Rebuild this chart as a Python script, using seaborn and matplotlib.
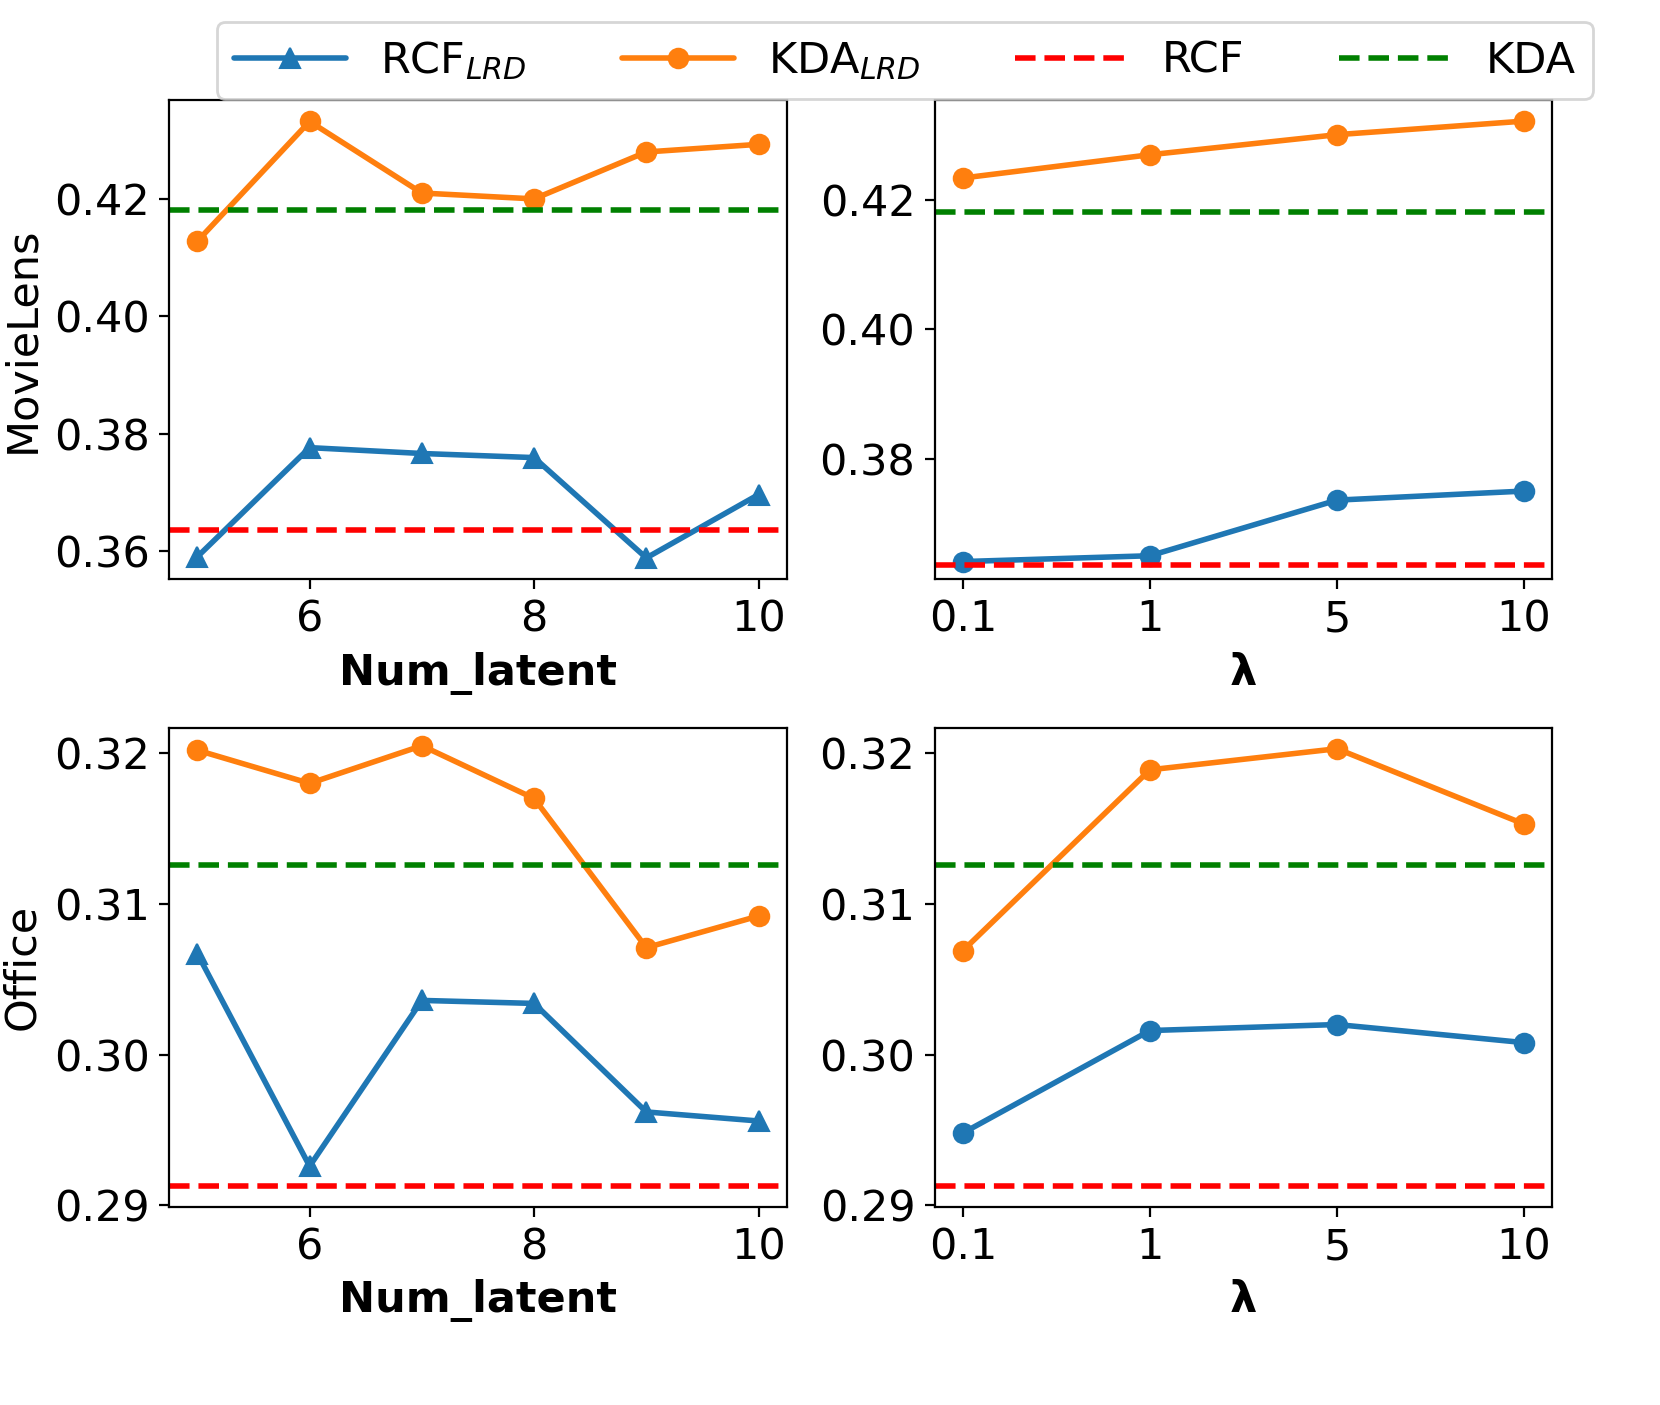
import pandas as pd
import matplotlib.pyplot as plt
import seaborn as sns

sns.set_style('ticks')
plt.rcParams['font.family'] = ['DejaVu Sans']
plt.rcParams.update({'text.color': 'black', 'axes.labelcolor': 'black',
                     'xtick.color': 'black', 'ytick.color': 'black',
                     'axes.edgecolor': 'black'})

num_latent = [5, 6, 7, 8, 9, 10]
lambdas = ['0.1', '1', '5', '10']

ml_latent_rcf = [0.3590, 0.3776, 0.3766, 0.3759, 0.3588, 0.3696]
ml_latent_kda = [0.4128, 0.4332, 0.4210, 0.4200, 0.4280, 0.4293]
ml_lambda_rcf = [0.3641, 0.3650, 0.3736, 0.3750]
ml_lambda_kda = [0.4234, 0.4270, 0.4301, 0.4322]
ml_rcf_base, ml_kda_base = 0.3635, 0.4181

of_latent_rcf = [0.3067, 0.2926, 0.3036, 0.3034, 0.2962, 0.2956]
of_latent_kda = [0.3202, 0.3180, 0.3205, 0.3170, 0.3071, 0.3092]
of_lambda_rcf = [0.2948, 0.3016, 0.3020, 0.3008]
of_lambda_kda = [0.3069, 0.3189, 0.3203, 0.3153]
of_rcf_base, of_kda_base = 0.2913, 0.3126

blue, orange = '#1f77b4', '#ff7f0e'
fs = 15.5

fig, axes = plt.subplots(2, 2, figsize=(8.3, 7.025), dpi=200)
fig.subplots_adjust(left=0.102, right=0.935, top=0.929, bottom=0.141, wspace=0.24, hspace=0.31)

panels = [
    (axes[0, 0], num_latent, ml_latent_rcf, ml_latent_kda, ml_rcf_base, ml_kda_base, '^', 'Num_latent', (0.3552, 0.4369)),
    (axes[0, 1], lambdas, ml_lambda_rcf, ml_lambda_kda, ml_rcf_base, ml_kda_base, 'o', 'λ', (0.3614, 0.4355)),
    (axes[1, 0], num_latent, of_latent_rcf, of_latent_kda, of_rcf_base, of_kda_base, '^', 'Num_latent', (0.2899, 0.3217)),
    (axes[1, 1], lambdas, of_lambda_rcf, of_lambda_kda, of_rcf_base, of_kda_base, 'o', 'λ', (0.2899, 0.3217)),
]

for ax, xs, rcf, kda, rb, kb, mk, xl, yl in panels:
    if isinstance(xs[0], str):
        xpos = list(range(len(xs)))
    else:
        xpos = xs
    df = pd.DataFrame({'x': xpos, 'rcf': rcf, 'kda': kda})
    sns.lineplot(data=df, x='x', y='rcf', ax=ax, color=blue, marker=mk, markersize=7,
                 markeredgecolor=blue, linewidth=2, label=r'RCF$_{LRD}$')
    sns.lineplot(data=df, x='x', y='kda', ax=ax, color=orange, marker='o', markersize=7,
                 markeredgecolor=orange, linewidth=2, label=r'KDA$_{LRD}$')
    ax.axhline(rb, color='red', linestyle='--', linewidth=2, label='RCF')
    ax.axhline(kb, color='green', linestyle='--', linewidth=2, label='KDA')
    if isinstance(xs[0], str):
        ax.set_xticks(xpos)
        ax.set_xticklabels(xs)
        ax.set_xlim(-0.15, 3.15)
    else:
        ax.set_xticks([6, 8, 10])
        ax.set_xlim(4.75, 10.25)
    ax.set_ylim(*yl)
    ax.set_xlabel(xl, fontsize=fs, fontweight='bold')
    ax.set_ylabel('')
    ax.tick_params(labelsize=fs)
    ax.get_legend().remove()

axes[0, 0].set_yticks([0.36, 0.38, 0.40, 0.42])
axes[0, 1].set_yticks([0.38, 0.40, 0.42])
for ax in axes[1]:
    ax.set_yticks([0.29, 0.30, 0.31, 0.32])
for ax in axes.flat:
    ax.yaxis.set_major_formatter(plt.FormatStrFormatter('%.2f'))

axes[0, 0].set_ylabel('MovieLens', fontsize=fs)
axes[1, 0].set_ylabel('Office', fontsize=fs)

h, l = axes[0, 0].get_legend_handles_labels()
fig.legend(h, l, loc='upper center', ncol=4, fontsize=fs, bbox_to_anchor=(0.545, 1.0),
           handlelength=2.6, columnspacing=2.2)

fig.savefig('out.png', dpi=200)
